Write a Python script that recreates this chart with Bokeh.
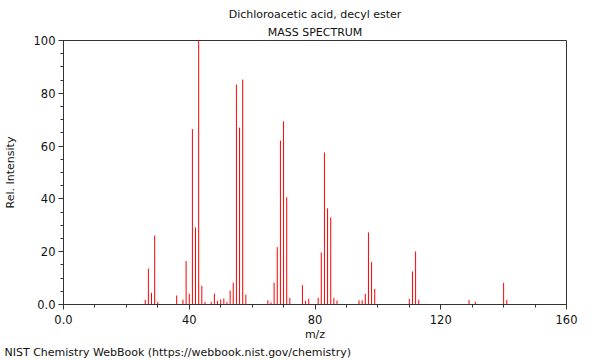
from bokeh.plotting import figure
from bokeh.models import Range1d, FixedTicker, Title
from bokeh.embed import file_html
from bokeh.resources import INLINE

title_text = "Dichloroacetic acid, decyl ester"
subtitle_text = "MASS SPECTRUM"
x_label = "m/z"
y_label = "Rel. Intensity"
footer_text = "NIST Chemistry WebBook (https://webbook.nist.gov/chemistry)"

mz = [26, 27, 28, 29, 30, 36, 38, 39, 40, 41, 42, 43, 44, 45, 47, 48, 49, 50,
      51, 52, 53, 54, 55, 56, 57, 58, 65, 66, 67, 68, 69, 70, 71, 72, 76, 77,
      78, 81, 82, 83, 84, 85, 86, 87, 94, 95, 96, 97, 98, 99, 110, 111, 112,
      113, 129, 131, 140, 141]
intensity = [1.7, 13.6, 4.4, 26.1, 1.0, 3.4, 1.8, 16.5, 4.1, 66.4, 29.2, 100.0,
             7.1, 1.0, 1.0, 4.1, 1.4, 1.9, 2.3, 1.0, 5.3, 8.3, 83.3, 67.0, 85.2,
             3.7, 1.6, 0.8, 8.3, 21.7, 62.1, 69.4, 40.6, 2.5, 7.3, 1.4, 2.2,
             2.5, 19.7, 57.6, 36.4, 33.0, 2.5, 1.5, 1.6, 1.6, 4.0, 27.3, 16.1,
             5.9, 2.1, 12.5, 20.1, 1.8, 1.7, 1.0, 8.2, 1.7]

x_ticks = [0, 40, 80, 120, 160]
x_minor = list(range(0, 161, 10))
y_ticks = [0, 20, 40, 60, 80, 100]
y_minor = list(range(0, 101, 5))

FONT = "DejaVu Sans"
FRAME = "#333333"
TXT = "#111111"

p = figure(width=600, height=360, output_backend="svg", toolbar_location=None,
           x_range=Range1d(0, 160), y_range=Range1d(0, 100),
           min_border_left=62, min_border_right=34,
           min_border_top=40, min_border_bottom=56)
p.background_fill_color = "white"
p.border_fill_color = "white"
p.outline_line_color = FRAME
p.outline_line_width = 1
p.xgrid.visible = False
p.ygrid.visible = False

p.segment(x0=mz, y0=[0] * len(mz), x1=mz, y1=intensity,
          line_color="#ff0000", line_width=1)

for ax, ticks, minor in ((p.xaxis[0], x_ticks, x_minor), (p.yaxis[0], y_ticks, y_minor)):
    ax.ticker = FixedTicker(ticks=ticks, minor_ticks=minor)
    ax.axis_line_color = FRAME
    ax.major_tick_line_color = FRAME
    ax.minor_tick_line_color = FRAME
    ax.major_tick_in = 0
    ax.major_tick_out = 5
    ax.minor_tick_in = 0
    ax.minor_tick_out = 3
    ax.major_label_text_font = FONT
    ax.major_label_text_font_size = "11.5px"
    ax.major_label_text_color = TXT
    ax.major_label_overrides = {0: "0.0"}
    ax.axis_label_text_font = FONT
    ax.axis_label_text_font_size = "11px"
    ax.axis_label_text_font_style = "normal"
    ax.axis_label_text_color = TXT

p.xaxis.major_label_standoff = 5
p.yaxis.major_label_standoff = 3
p.xaxis.axis_label = x_label
p.xaxis.axis_label_standoff = 1
p.yaxis.axis_label = y_label
p.yaxis.axis_label_standoff = 14

p.title.text = title_text
p.title.align = "center"
p.title.text_font = FONT
p.title.text_font_size = "11px"
p.title.text_font_style = "normal"
p.title.text_color = TXT
p.title.standoff = 2

p.add_layout(Title(text=subtitle_text, align="center", text_font=FONT,
                   text_font_size="11px", text_font_style="normal",
                   text_color=TXT, standoff=4), "above")

p.add_layout(Title(text=footer_text, align="left", offset=-59, text_font=FONT,
                   text_font_size="11px", text_font_style="normal",
                   text_color=TXT, standoff=0), "below")

open("out.html", "w").write(file_html(p, INLINE))
